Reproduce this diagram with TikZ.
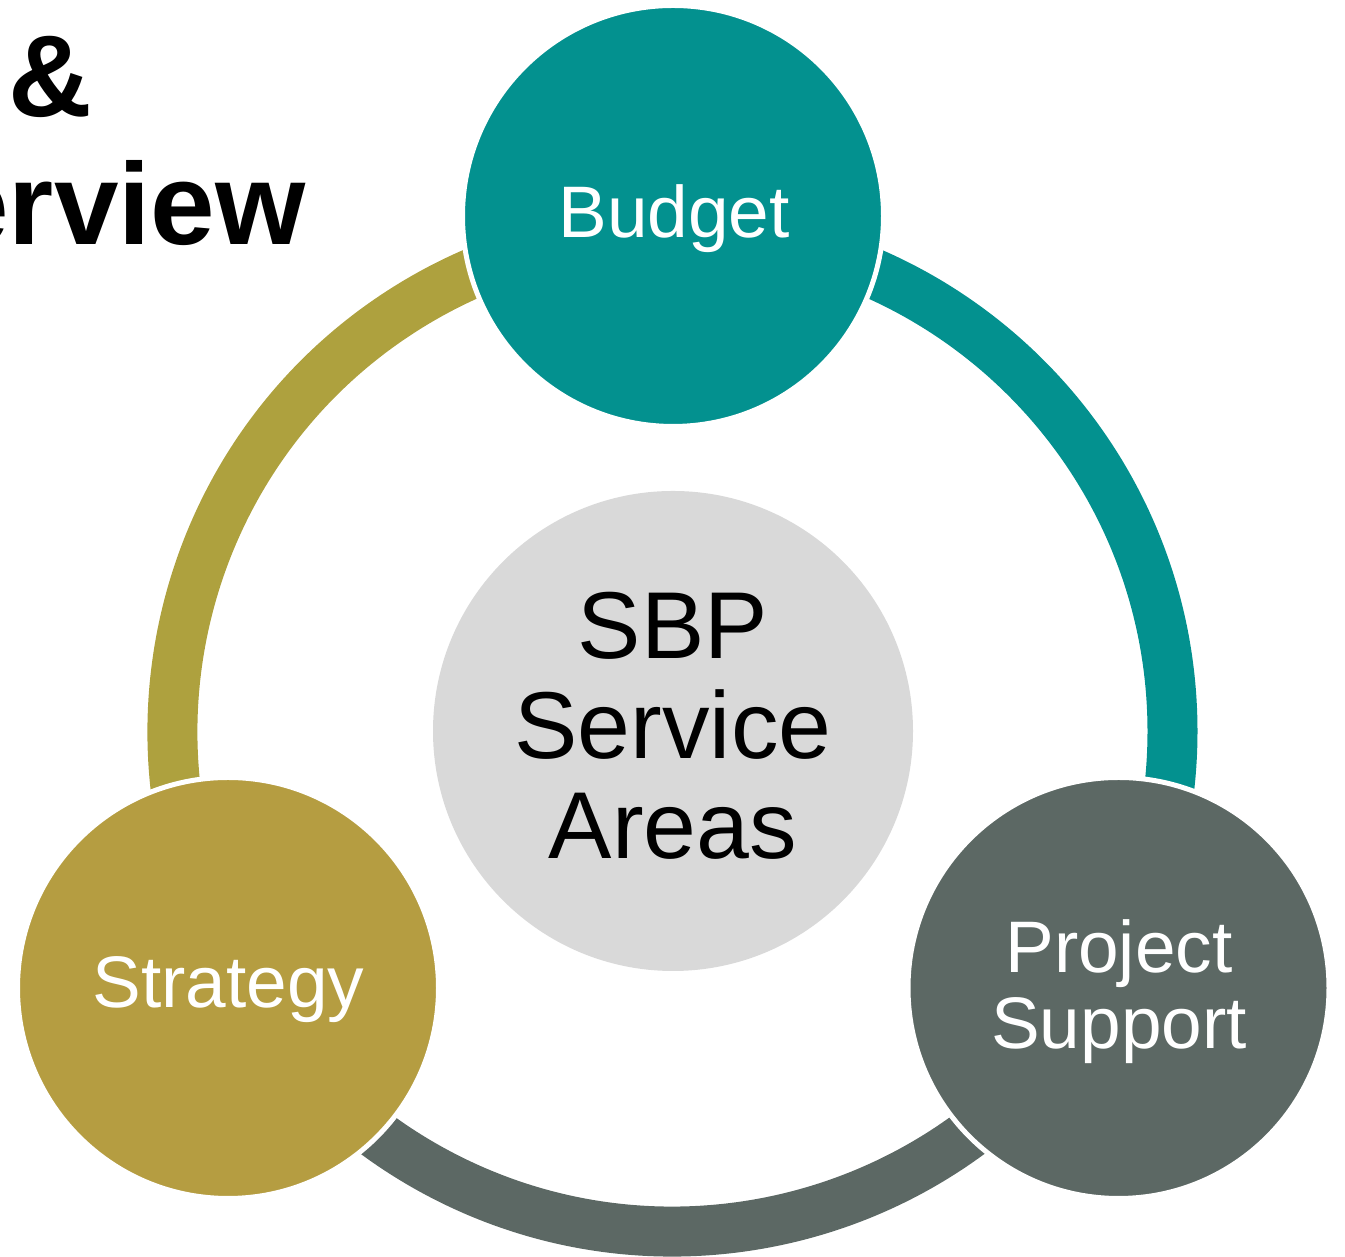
\documentclass[tikz,border=0pt]{standalone}
\usepackage{fontspec}
\setmainfont{Liberation Sans}
\definecolor{tealc}{HTML}{03918F}
\definecolor{olivering}{HTML}{AEA13E}
\definecolor{olivec}{HTML}{B59D41}
\definecolor{grayc}{HTML}{5C6864}
\definecolor{centerc}{HTML}{D9D9D9}
\begin{document}
\begin{tikzpicture}[x=0.5pt,y=0.5pt,
  ring/.style={line width=25pt},
  petal/.style={circle, draw=white, line width=2.5pt, minimum size=210.5pt, inner sep=0pt},
  lbl/.style={text=white, font=\fontsize{36.5}{38}\selectfont, align=center, inner sep=0pt},
  titletext/.style={inner sep=0pt, font=\bfseries\fontsize{58}{60}\selectfont},
]
\useasboundingbox (0,0) rectangle (1345,1257);
\coordinate (c) at (672.5,525.5);
% ring segments
\draw[ring, tealc] (c) ++(90:250pt) arc[start angle=90, end angle=-30, radius=250pt];
\draw[ring, grayc] (c) ++(-30:250pt) arc[start angle=-30, end angle=-150, radius=250pt];
\draw[ring, olivering] (c) ++(210:250pt) arc[start angle=210, end angle=90, radius=250pt];
% circles
\node[petal, fill=tealc] (budget) at (673,1041) {};
\node[petal, fill=olivec] (strategy) at (228,269) {};
\node[petal, fill=grayc] (project) at (1118.5,269) {};
\node[circle, fill=centerc, minimum size=240pt, inner sep=0pt] (sbp) at (673,526) {};
% labels
\node[lbl] (budgettext) at (674,1038.5) {Budget};
\node[lbl] (strategytext) at (228.5,267) {Strategy};
\node[lbl] (projecttext) at (1119,265.5) {Project\\Support};
\node[inner sep=0pt, align=center, font=\fontsize{47.5}{50}\selectfont] (sbptext) at (673,531) {SBP\\Service\\Areas};
% title fragments
\node[titletext, anchor=base west] (amp) at (8,1140) {\&};
\node[titletext, anchor=base east] (rview) at (306,1012) {erview};
\end{tikzpicture}
\end{document}
